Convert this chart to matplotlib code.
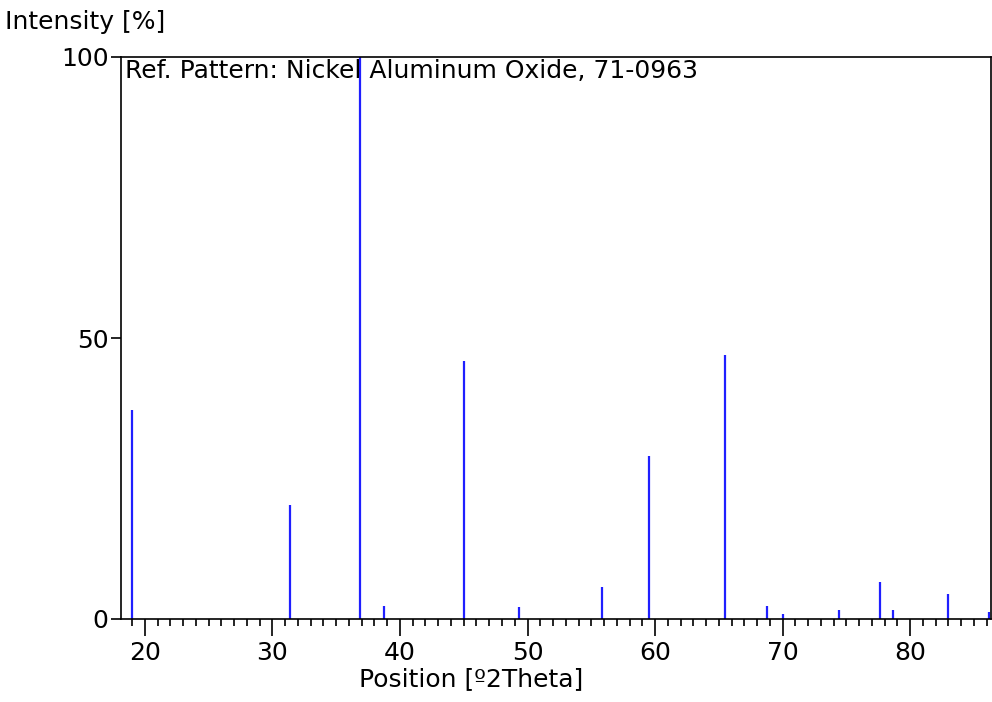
import matplotlib
matplotlib.use('Agg')
import matplotlib.pyplot as plt
from matplotlib.ticker import MultipleLocator

# reference pattern peaks (2theta, relative intensity)
positions = [19.0, 31.4, 36.9, 38.75, 45.0, 49.3, 55.87, 59.5, 65.5,
             68.8, 70.0, 74.45, 77.65, 78.7, 83.0, 86.2]
intensities = [37.2, 20.3, 100, 2.3, 45.9, 2.1, 5.7, 29.0, 47.0,
               2.3, 0.9, 1.6, 6.5, 1.6, 4.4, 1.3]
y_ticks = [0, 50, 100]
pattern_label = 'Ref. Pattern: Nickel Aluminum Oxide, 71-0963'

plt.rcParams['font.family'] = ['DejaVu Sans']
fs = 18

fig = plt.figure(figsize=(9.92, 7.02), dpi=100)
ax = fig.add_axes([121 / 992, 83 / 702, 870 / 992, 562 / 702])

ax.vlines(positions, 0, intensities, color='#1f1fff', linewidth=1.6)

ax.set_xlim(18.12, 86.35)
ax.set_ylim(0, 100)
ax.xaxis.set_major_locator(MultipleLocator(10))
ax.xaxis.set_minor_locator(MultipleLocator(1))
ax.set_yticks(y_ticks)
ax.tick_params(axis='x', which='major', length=12, width=1.2, labelsize=fs, pad=4)
ax.tick_params(axis='x', which='minor', length=5, width=1.2)
ax.tick_params(axis='y', length=7, width=1.2, labelsize=fs, pad=2)
for s in ax.spines.values():
    s.set_linewidth(1.2)

ax.set_xlabel('Position [º2Theta]', fontsize=fs)
ax.xaxis.set_label_coords(0.403, -0.085)
fig.text(5 / 992, 1 - 22 / 702, 'Intensity [%]', fontsize=fs, va='center', ha='left')
ax.text(0.005, 0.997, pattern_label, transform=ax.transAxes,
        fontsize=fs, va='top', ha='left')

fig.savefig('out.png', dpi=100)
